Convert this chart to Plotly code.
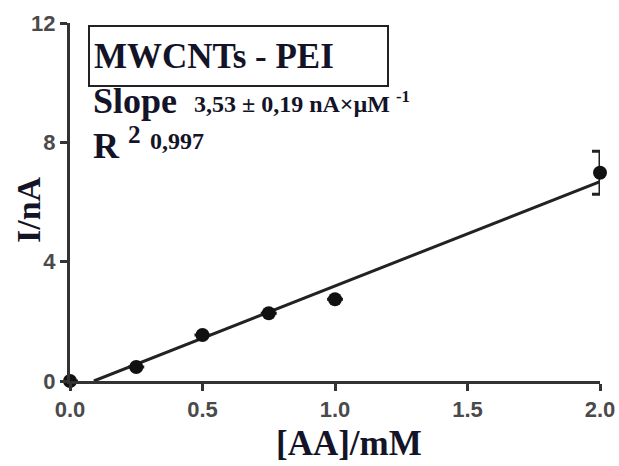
import plotly.graph_objects as go

conc = [0.0, 0.25, 0.5, 0.75, 1.0, 2.0]
current = [0.0, 0.47, 1.54, 2.27, 2.74, 6.98]
err = [0, 0, 0, 0, 0, 0.72]
fit_x = [0.09, 2.0]
fit_slope = 3.5
fit_y = [fit_slope * (x - fit_x[0]) for x in fit_x]
xticks = [0.0, 0.5, 1.0, 1.5, 2.0]
xticklabels = ["0.0", "0.5", "1.0", "1.5", "2.0"]
yticks = [0, 4, 8, 12]
yticklabels = ["0", "4", "8", "12"]

serif = "Liberation Serif"
sans = "Liberation Sans"
txt = "#141428"

L, R, T, B = 70, 19, 23, 85
W, H = 619, 466
pw, ph = W - L - R, H - T - B


def px(x):
    return (x - L) / pw


def py(y):
    return (H - B - y) / ph


fig = go.Figure()
fig.add_trace(go.Scatter(x=fit_x, y=fit_y, mode="lines",
                         line=dict(color="#222222", width=3), cliponaxis=False,
                         showlegend=False))
fig.add_trace(go.Scatter(x=conc, y=current, mode="markers",
                         marker=dict(color="#111111", size=14),
                         error_y=dict(type="data", array=err, visible=True,
                                      color="#222222", thickness=3, width=8),
                         cliponaxis=False, showlegend=False))

fig.update_layout(
    width=W, height=H,
    margin=dict(l=L, r=R, t=T, b=B),
    plot_bgcolor="white", paper_bgcolor="white",
    font=dict(family=sans, size=22, color="#4a4a4a"),
)
for upd, vals, labels, rng in ((fig.update_xaxes, xticks, xticklabels, [0, 2.0]),
                               (fig.update_yaxes, yticks, yticklabels, [0, 12])):
    upd(range=rng, tickmode="array", tickvals=vals,
        ticktext=["<b>%s</b>" % t for t in labels],
        showline=True, linecolor="#333333", linewidth=3,
        ticks="outside", ticklen=7, tickwidth=3, tickcolor="#333333",
        showgrid=False, zeroline=False, automargin=False,
        tickfont_family=sans, tickfont_size=22, tickfont_color="#4a4a4a")

# axis titles
fig.add_annotation(xref="paper", yref="paper", x=px(349), y=py(443),
                   xanchor="center", yanchor="middle", showarrow=False,
                   text="[AA]/mM",
                   font=dict(family=serif, size=35, color=txt, weight="bold"))
fig.add_annotation(xref="paper", yref="paper", x=px(28), y=py(210),
                   xanchor="center", yanchor="middle", showarrow=False, textangle=-90,
                   text="I/nA",
                   font=dict(family=serif, size=34, color=txt, weight="bold"))

# label box
fig.add_shape(type="rect", xref="paper", yref="paper",
              x0=px(89), x1=px(388), y0=py(86), y1=py(26),
              line=dict(color="#222222", width=2), fillcolor="rgba(0,0,0,0)")
fig.add_annotation(xref="paper", yref="paper", x=px(92), y=py(57),
                   xanchor="left", yanchor="middle", showarrow=False,
                   text="MWCNTs - PEI",
                   font=dict(family=serif, size=35, color=txt, weight="bold"))
fig.add_annotation(xref="paper", yref="paper", x=px(91), y=py(101),
                   xanchor="left", yanchor="middle", showarrow=False,
                   text="Slope",
                   font=dict(family=serif, size=36, color=txt, weight="bold"))
fig.add_annotation(xref="paper", yref="paper", x=px(192), y=py(119),
                   xanchor="left", yanchor="bottom", showarrow=False,
                   text="3,53 ± 0,19 nA×µM <sup>-1</sup>",
                   font=dict(family=serif, size=24, color=txt, weight="bold"))
fig.add_annotation(xref="paper", yref="paper", x=px(91), y=py(143),
                   xanchor="left", yanchor="middle", showarrow=False,
                   text="R <sup>2</sup>",
                   font=dict(family=serif, size=36, color=txt, weight="bold"))
fig.add_annotation(xref="paper", yref="paper", x=px(148), y=py(141),
                   xanchor="left", yanchor="middle", showarrow=False,
                   text="0,997",
                   font=dict(family=serif, size=24, color=txt, weight="bold"))

fig.write_html("out.html")
